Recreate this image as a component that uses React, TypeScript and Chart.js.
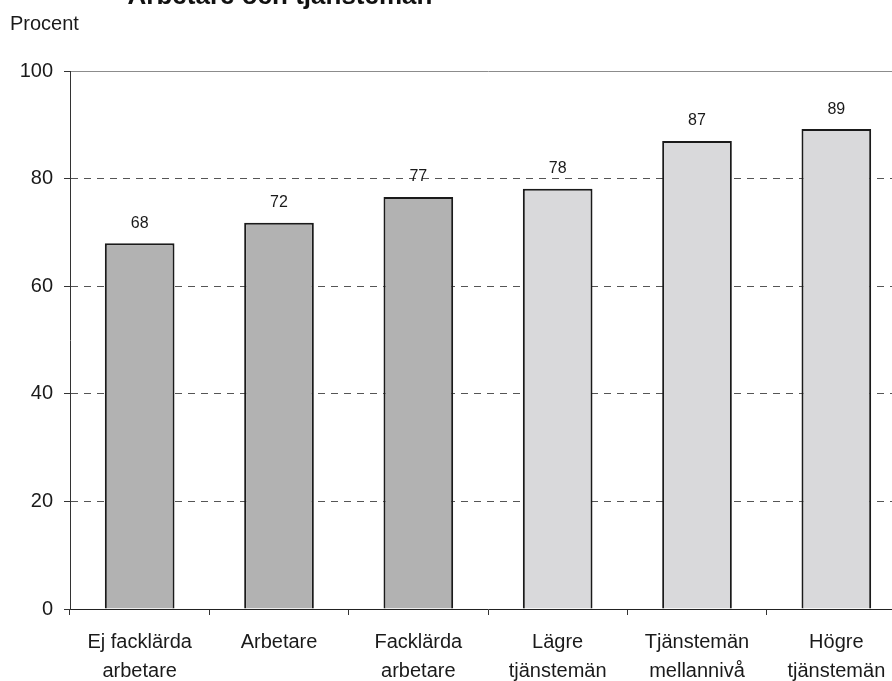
import React, { useEffect, useRef } from 'react';
import { Chart, registerables } from 'chart.js';

Chart.register(...registerables);

const FONT = '"Liberation Sans", Arial, Helvetica, sans-serif';

const chartTitle = 'Arbetare och tjänstemän';
const yAxisLabel = 'Procent';
const categories: string[][] = [
  ['Ej facklärda', 'arbetare'],
  ['Arbetare'],
  ['Facklärda', 'arbetare'],
  ['Lägre', 'tjänstemän'],
  ['Tjänstemän', 'mellannivå'],
  ['Högre', 'tjänstemän'],
];
const values = [68, 71.8, 76.6, 78.1, 87, 89.2];
const valueLabels = ['68', '72', '77', '78', '87', '89'];
const barColors = ['#b2b2b2', '#b2b2b2', '#b2b2b2', '#d9d9db', '#d9d9db', '#d9d9db'];
const yMin = 0;
const yMax = 100;
const yStep = 20;

const textPlugin = {
  id: 'textPlugin',
  afterDatasetsDraw(chart: any) {
    const ctx = chart.ctx;
    const meta = chart.getDatasetMeta(0);
    ctx.save();
    ctx.fillStyle = '#1a1a1a';
    ctx.font = `16px ${FONT}`;
    ctx.textAlign = 'center';
    ctx.textBaseline = 'middle';
    meta.data.forEach((bar: any, i: number) => {
      ctx.fillText(valueLabels[i], bar.x, bar.y - 20);
    });
    ctx.restore();
  },
  afterDraw(chart: any) {
    const ctx = chart.ctx;
    ctx.save();
    ctx.fillStyle = '#111';
    ctx.textBaseline = 'alphabetic';
    ctx.textAlign = 'center';
    ctx.font = `bold 26px ${FONT}`;
    ctx.fillText(chartTitle, 280, 4);
    ctx.textAlign = 'left';
    ctx.font = `20px ${FONT}`;
    ctx.fillStyle = '#1a1a1a';
    ctx.fillText(yAxisLabel, 10, 30);
    ctx.restore();
  },
};

export default function App() {
  const ref = useRef<HTMLCanvasElement | null>(null);
  useEffect(() => {
    if (!ref.current) return;
    const chart = new Chart(ref.current, {
      type: 'bar',
      data: {
        labels: categories,
        datasets: [
          {
            data: values,
            backgroundColor: barColors,
            borderColor: '#1a1a1a',
            borderWidth: 2,
            barPercentage: 0.5,
            categoryPercentage: 1,
          },
        ],
      },
      options: {
        responsive: false,
        animation: false,
        devicePixelRatio: 1,
        layout: { padding: { top: 71, left: 0, right: 0, bottom: 0 } },
        plugins: {
          legend: { display: false },
          tooltip: { enabled: false },
          title: { display: false },
        },
        scales: {
          x: {
            afterFit: (scale: any) => {
              scale.height = 72;
            },
            grid: {
              display: true,
              offset: true,
              drawOnChartArea: false,
              drawTicks: true,
              tickLength: 6,
              tickColor: '#333',
              color: '#333',
            },
            border: { display: true, color: '#222', width: 1 },
            ticks: {
              font: { family: FONT, size: 20, lineHeight: 29 / 20 },
              color: '#1a1a1a',
              padding: 13,
              maxRotation: 0,
              autoSkip: false,
            },
          },
          y: {
            min: yMin,
            max: yMax,
            afterFit: (scale: any) => {
              scale.width = 70;
            },
            grid: {
              color: (c: any) =>
                c.tick && c.tick.value === yMax
                  ? '#8c8c8c'
                  : c.tick && c.tick.value === yMin
                  ? 'rgba(0,0,0,0)'
                  : '#555',
              lineWidth: 1,
              drawTicks: true,
              tickLength: 6,
              tickColor: '#333',
              tickBorderDash: [],
            },
            border: {
              display: true,
              color: '#333',
              width: 1,
              dash: (c: any) => (c.tick && c.tick.value === yMax ? [] : [7, 6]),
            },
            ticks: {
              stepSize: yStep,
              font: { family: FONT, size: 20 },
              color: '#1a1a1a',
              padding: 11,
            },
          },
        },
      },
      plugins: [textPlugin],
    });
    return () => chart.destroy();
  }, []);
  return (
    <div
      style={{
        position: 'absolute',
        left: 0,
        top: 0,
        width: 892,
        height: 681,
        overflow: 'hidden',
        background: '#fff',
      }}
    >
      <canvas ref={ref} width={906} height={681} style={{ display: 'block' }} />
    </div>
  );
}
